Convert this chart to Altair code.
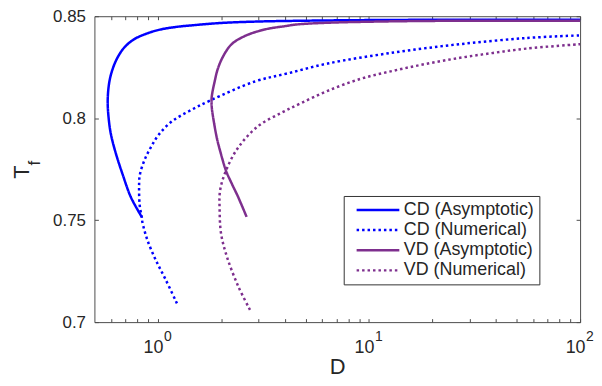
import altair as alt
import pandas as pd

# ---------------- data ----------------
series_names = ["CD (Asymptotic)", "CD (Numerical)", "VD (Asymptotic)", "VD (Numerical)"]
series_colors = ["#0000FF", "#0000FF", "#7E2F8E", "#7E2F8E"]
series_dashes = [[1, 0], [2.5, 3], [1, 0], [2.5, 3]]

cd_asym_D = [0.838, 0.744, 0.679, 0.633, 0.599, 0.584, 0.578, 0.588, 0.610, 0.644, 0.692,
             0.771, 0.891, 1.03, 1.232, 1.476, 2.0, 3.0, 5.0, 10, 30, 100]
cd_asym_T = [0.7516, 0.7613, 0.7727, 0.7824, 0.792, 0.800, 0.8087, 0.8176, 0.8241, 0.8298, 0.8346,
             0.8387, 0.8416, 0.8435, 0.8448, 0.8456, 0.8467, 0.8474, 0.8478, 0.8481, 0.8483, 0.8483]

cd_num_D = [1.23, 1.087, 0.975, 0.891, 0.844, 0.838, 0.820, 0.814, 0.820, 0.86, 0.924, 1.01,
            1.167, 1.40, 1.77, 2.88, 4.13, 6.37, 13.1, 27.0, 55.5, 100]
cd_num_T = [0.7092, 0.7209, 0.7306, 0.7403, 0.749, 0.7516, 0.757, 0.7662, 0.772, 0.779, 0.7856, 0.792,
            0.7985, 0.8034, 0.8087, 0.818, 0.822, 0.8268, 0.8322, 0.8363, 0.8393, 0.8406]

vd_asym_D = [2.63, 2.40, 2.24, 2.10, 1.97, 1.90, 1.835, 1.80, 1.795, 1.81, 1.853, 1.92, 2.043,
             2.235, 2.584, 3.208, 3.984, 4.602, 6.4, 10, 20, 100]
vd_asym_T = [0.7516, 0.7613, 0.7678, 0.7743, 0.784, 0.7904, 0.799, 0.805, 0.8095, 0.8125, 0.8176,
             0.8241, 0.8306, 0.8363, 0.8403, 0.8435, 0.8451, 0.846, 0.8468, 0.8473, 0.8477, 0.8478]

vd_num_D = [2.73, 2.40, 2.12, 1.99, 1.96, 1.97, 2.10, 2.40, 2.98, 3.84, 4.77, 6.37, 9.13,
            13.1, 18.8, 27.0, 38.7, 55.5, 100]
vd_num_T = [0.706, 0.7176, 0.7322, 0.7435, 0.7549, 0.7646, 0.7743, 0.7856, 0.7961, 0.8026, 0.8074,
            0.8134, 0.8193, 0.8233, 0.8267, 0.8296, 0.832, 0.8341, 0.8363]

x_major = [1, 10, 100]
x_major_base = ["10", "10", "10"]
x_exponents = ["0", "1", "2"]
x_minor = [0.6, 0.7, 0.8, 0.9, 2, 3, 4, 5, 6, 7, 8, 9, 20, 30, 40, 50, 60, 70, 80, 90]
y_ticks = [0.7, 0.75, 0.8, 0.85]
y_tick_labels = ["0.7", "0.75", "0.8", "0.85"]

# ---------------- table ----------------
rows = []
for name, xs, ys in [(series_names[0], cd_asym_D, cd_asym_T),
                     (series_names[1], cd_num_D, cd_num_T),
                     (series_names[2], vd_asym_D, vd_asym_T),
                     (series_names[3], vd_num_D, vd_num_T)]:
    for i, (xv, yv) in enumerate(zip(xs, ys)):
        rows.append({"series": name, "D": xv, "Tf": yv, "idx": i})
df = pd.DataFrame(rows)

def value_map_expr(vals, labels):
    expr = "''"
    for v, l in zip(reversed(vals), reversed(labels)):
        expr = f"abs(datum.value-{v})<1e-9 ? '{l}' : ({expr})"
    return expr

main_expr = value_map_expr(x_major, x_major_base)
sup_expr = value_map_expr(x_major, x_exponents)
y_expr = value_map_expr(y_ticks, y_tick_labels)

W, H = 489, 308
FONT = "Liberation Sans"
TXT = "#262626"
AX = "#4d4d4d"

xscale = alt.Scale(type="log", domain=[0.5, 100], nice=False)
yscale = alt.Scale(domain=[0.7, 0.85], nice=False, zero=False)
all_x_ticks = sorted(x_major + x_minor)

legend = alt.Legend(
    orient="none", legendX=251, legendY=181,
    symbolType="M-4,0H4", symbolSize=115.6, symbolStrokeWidth=2.5,
    symbolOffset=20.5, labelOffset=17,
    labelFont=FONT, labelFontSize=18, labelColor=TXT,
    padding=5, rowPadding=2.3, strokeColor="#333333", fillColor="white",
    labelLimit=400,
)

lines = alt.Chart(df).mark_line(strokeWidth=2.5, strokeCap="butt", interpolate="catmull-rom").encode(
    x=alt.X("D:Q", scale=xscale,
            axis=alt.Axis(orient="top", offset=-H, values=all_x_ticks, tickSize=3.5,
                          labelExpr=main_expr, labelBaseline="top", labelAlign="center",
                          labelPadding=-20.5, labelOffset=-5, labelFontSize=18,
                          labelFlush=False, labelOverlap=False, grid=False,
                          title="D", titleX=W / 2, titleY=51.5, titleAlign="center",
                          titleBaseline="alphabetic", titleFontSize=22)),
    y=alt.Y("Tf:Q", scale=yscale,
            axis=alt.Axis(orient="right", offset=-W, values=y_ticks, tickSize=4,
                          labelExpr=y_expr, labelAlign="right", labelBaseline="middle",
                          labelPadding=-13, labelFontSize=17, grid=False,
                          labelFlush=False, labelOverlap=False,
                          title="T", titleAngle=270, titleX=-66, titleY=156.5,
                          titleAlign="center", titleBaseline="alphabetic", titleFontSize=22)),
    color=alt.Color("series:N", title=None,
                    scale=alt.Scale(domain=series_names, range=series_colors), legend=legend),
    strokeDash=alt.StrokeDash("series:N", title=None,
                              scale=alt.Scale(domain=series_names, range=series_dashes), legend=legend),
    order=alt.Order("idx:Q"),
)

ghost = alt.Chart(df).mark_point(opacity=0, size=1).encode(
    x=alt.X("D:Q", scale=xscale,
            axis=alt.Axis(orient="bottom", offset=-H, values=all_x_ticks, tickSize=3.5,
                          labelExpr=sup_expr, labelBaseline="top", labelAlign="left",
                          labelPadding=312.5, labelOffset=5.5, labelFontSize=14,
                          labelFlush=False, labelOverlap=False, grid=False, title="")),
    y=alt.Y("Tf:Q", scale=yscale,
            axis=alt.Axis(orient="left", offset=-W, values=y_ticks, tickSize=4,
                          labels=False, grid=False,
                          title="f", titleAngle=270, titleX=-544.7, titleY=147.5,
                          titleAlign="center", titleBaseline="alphabetic", titleFontSize=17)),
)

chart = alt.layer(lines, ghost).resolve_axis(x="independent", y="independent").properties(
    width=W, height=H,
    autosize=alt.AutoSizeParams(type="none"),
    padding={"left": 87, "top": 7, "right": 14, "bottom": 55},
).configure_view(stroke=None).configure_axis(
    labelFont=FONT, titleFont=FONT, labelColor=TXT, titleColor=TXT,
    titleFontWeight="normal", domainColor=AX, tickColor=AX, domainWidth=1, tickWidth=1,
)

chart.save("out.html", embed_options={"renderer": "svg", "actions": False})
